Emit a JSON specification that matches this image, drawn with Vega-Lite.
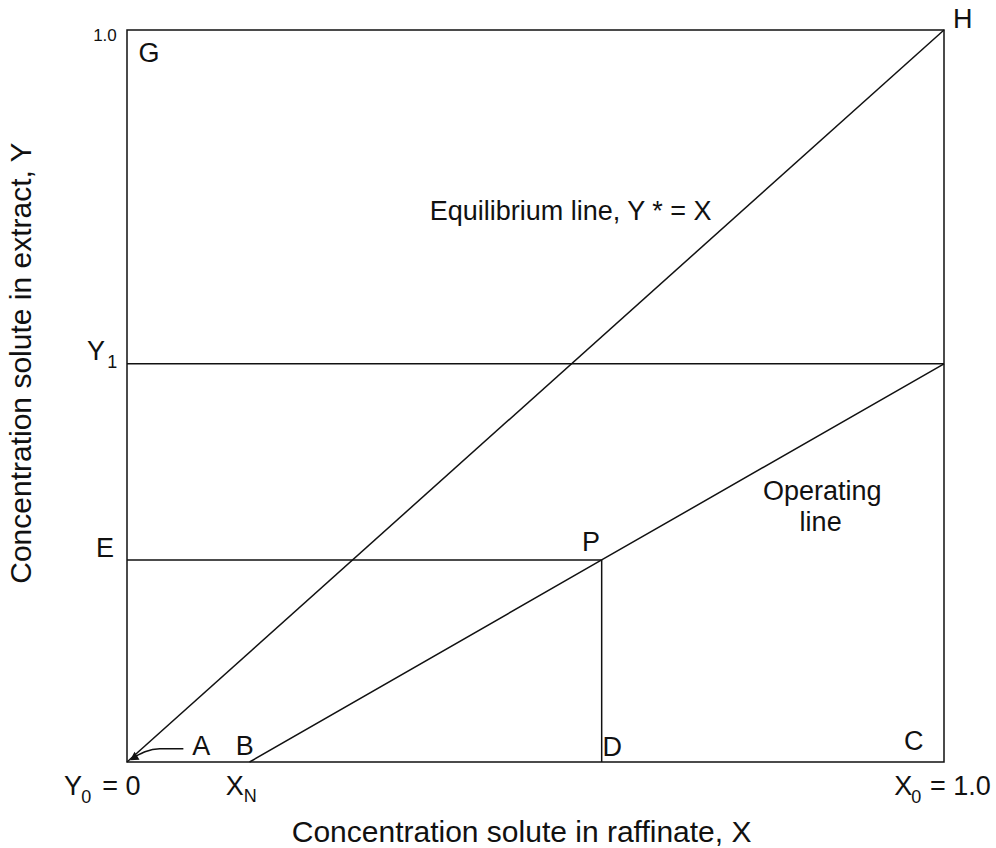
{
  "$schema": "https://vega.github.io/schema/vega-lite/v6.json",
  "width": 817,
  "height": 732,
  "autosize": {"type": "none"},
  "padding": {"left": 127, "top": 30, "right": 52, "bottom": 86},
  "background": "white",
  "config": {
    "view": {"stroke": "#111111", "strokeWidth": 1.5},
    "text": {"font": "Liberation Sans", "color": "#111111"}
  },
  "datasets": {
    "lines": [
      {"line": "equilibrium", "seq": 0, "x": 0, "y": 0},
      {"line": "equilibrium", "seq": 1, "x": 1, "y": 1},
      {"line": "operating", "seq": 0, "x": 0.15, "y": 0},
      {"line": "operating", "seq": 1, "x": 0.581, "y": 0.276},
      {"line": "operating", "seq": 2, "x": 1, "y": 0.544},
      {"line": "Y1", "seq": 0, "x": 0, "y": 0.544},
      {"line": "Y1", "seq": 1, "x": 1, "y": 0.544},
      {"line": "EP", "seq": 0, "x": 0, "y": 0.276},
      {"line": "EP", "seq": 1, "x": 0.581, "y": 0.276},
      {"line": "PD", "seq": 0, "x": 0.581, "y": 0},
      {"line": "PD", "seq": 1, "x": 0.581, "y": 0.276}
    ],
    "arrow": [
      {"seq": 0, "x": 0.069, "y": 0.018},
      {"seq": 1, "x": 0.04, "y": 0.018},
      {"seq": 2, "x": 0.022, "y": 0.014},
      {"seq": 3, "x": 0.011, "y": 0.008}
    ],
    "arrowhead": [{"x": 0.008, "y": 0.0055}],
    "labels": [
      {"text": "G", "x": 0.027, "y": 0.967},
      {"text": "H", "x": 1.023, "y": 1.014},
      {"text": "Y", "x": -0.038, "y": 0.56},
      {"text": "E", "x": -0.027, "y": 0.291},
      {"text": "P", "x": 0.568, "y": 0.299},
      {"text": "A", "x": 0.091, "y": 0.02},
      {"text": "B", "x": 0.144, "y": 0.02},
      {"text": "D", "x": 0.594, "y": 0.019},
      {"text": "C", "x": 0.963, "y": 0.027},
      {"text": "Y", "x": -0.066, "y": -0.034},
      {"text": "= 0", "x": -0.007, "y": -0.034},
      {"text": "X", "x": 0.132, "y": -0.034},
      {"text": "X", "x": 0.95, "y": -0.034},
      {"text": "= 1.0", "x": 1.02, "y": -0.034},
      {"text": "Equilibrium line, Y * = X", "x": 0.543, "y": 0.751},
      {"text": "Operating", "x": 0.851, "y": 0.369},
      {"text": "line", "x": 0.849, "y": 0.326}
    ],
    "subs": [
      {"text": "1", "x": -0.018, "y": 0.545},
      {"text": "0", "x": -0.05, "y": -0.049},
      {"text": "N", "x": 0.151, "y": -0.048},
      {"text": "0", "x": 0.966, "y": -0.049}
    ],
    "ticklabel": [{"text": "1.0", "x": -0.027, "y": 0.992}],
    "xtitle": [{"text": "Concentration solute in raffinate, X", "x": 0.483, "y": -0.097}],
    "ytitle": [{"text": "Concentration solute in extract, Y", "x": -0.1285, "y": 0.545}]
  },
  "encoding": {
    "x": {"field": "x", "type": "quantitative", "scale": {"domain": [0, 1], "nice": false, "zero": false}, "axis": null},
    "y": {"field": "y", "type": "quantitative", "scale": {"domain": [0, 1], "nice": false, "zero": false}, "axis": null}
  },
  "layer": [
    {
      "data": {"name": "lines"},
      "mark": {"type": "line", "color": "#111111", "strokeWidth": 1.5},
      "encoding": {"detail": {"field": "line"}, "order": {"field": "seq"}}
    },
    {
      "data": {"name": "arrow"},
      "mark": {"type": "line", "color": "#111111", "strokeWidth": 1.6, "interpolate": "monotone"},
      "encoding": {"order": {"field": "seq"}}
    },
    {
      "data": {"name": "arrowhead"},
      "mark": {"type": "point", "shape": "triangle-left", "filled": true, "color": "#111111", "size": 90, "angle": -32, "opacity": 1}
    },
    {
      "data": {"name": "labels"},
      "mark": {"type": "text", "fontSize": 27, "align": "center", "baseline": "middle"},
      "encoding": {"text": {"field": "text"}}
    },
    {
      "data": {"name": "subs"},
      "mark": {"type": "text", "fontSize": 18, "align": "center", "baseline": "middle"},
      "encoding": {"text": {"field": "text"}}
    },
    {
      "data": {"name": "ticklabel"},
      "mark": {"type": "text", "fontSize": 17, "align": "center", "baseline": "middle"},
      "encoding": {"text": {"field": "text"}}
    },
    {
      "data": {"name": "xtitle"},
      "mark": {"type": "text", "fontSize": 30, "align": "center", "baseline": "middle"},
      "encoding": {"text": {"field": "text"}}
    },
    {
      "data": {"name": "ytitle"},
      "mark": {"type": "text", "fontSize": 30, "align": "center", "baseline": "middle", "angle": 270},
      "encoding": {"text": {"field": "text"}}
    }
  ]
}
